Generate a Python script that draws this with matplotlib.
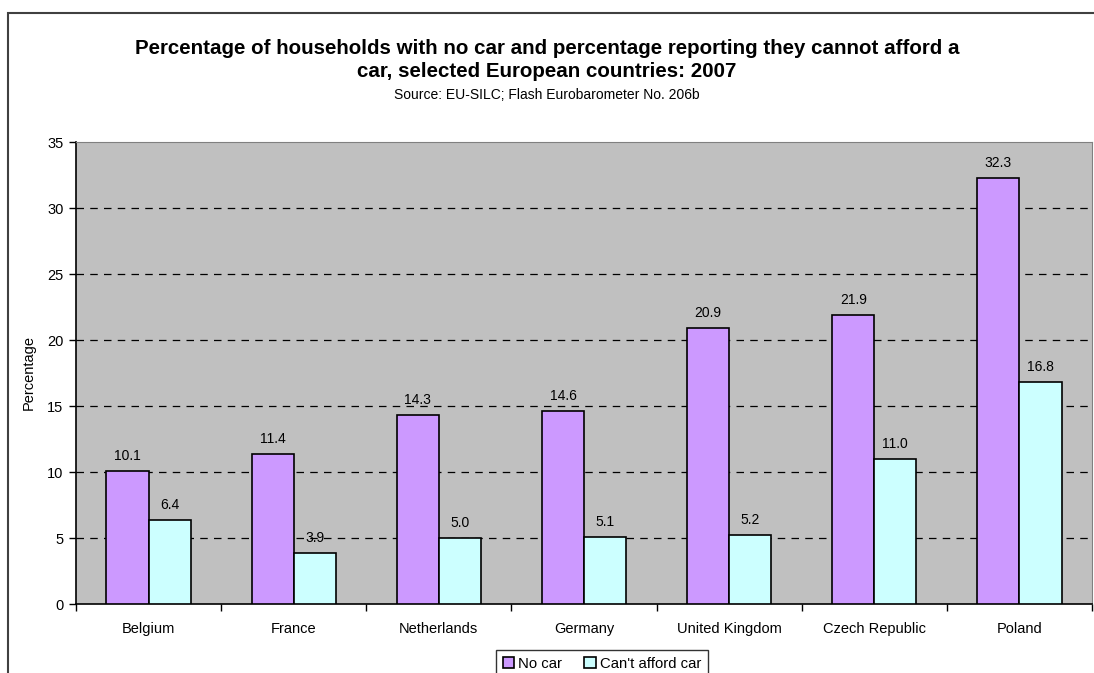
import matplotlib.pyplot as plt
from matplotlib.patches import Rectangle
import numpy as np

plt.rcParams['font.family'] = ['Liberation Sans', 'DejaVu Sans']

countries = ["Belgium", "France", "Netherlands", "Germany",
             "United Kingdom", "Czech Republic", "Poland"]
no_car = [10.1, 11.4, 14.3, 14.6, 20.9, 21.9, 32.3]
cant_afford = [6.4, 3.9, 5.0, 5.1, 5.2, 11.0, 16.8]
y_ticks = [0, 5, 10, 15, 20, 25, 30, 35]

fig = plt.figure(figsize=(10.94, 6.73), dpi=100)
W, H = 1094, 673
ax = fig.add_axes([76 / W, 1 - 604 / H, (1092 - 76) / W, (604 - 142) / H])
ax.set_facecolor('#C0C0C0')

x = np.arange(len(countries))
w = 0.29
b1 = ax.bar(x - w / 2, no_car, w, color='#CC99FF', edgecolor='black',
            linewidth=1.2, label='No car', zorder=3)
b2 = ax.bar(x + w / 2, cant_afford, w, color='#CCFFFF', edgecolor='black',
            linewidth=1.2, label="Can't afford car", zorder=3)

for bars in (b1, b2):
    for r in bars:
        ax.text(r.get_x() + r.get_width() / 2, r.get_height() + 0.6,
                f"{r.get_height():.1f}", ha='center', va='bottom', fontsize=10)

ax.set_xlim(-0.5, len(countries) - 0.5)
ax.set_ylim(0, 35)
ax.set_yticks(y_ticks)
ax.set_yticklabels([str(v) for v in y_ticks], fontsize=10.5)
for v in y_ticks[1:-1]:
    ax.axhline(v, color='black', linestyle=(0, (6, 5)), linewidth=0.9, zorder=1)

ax.set_xticks(x)
ax.set_xticklabels(countries, fontsize=10.5)
ax.tick_params(axis='x', which='major', length=0, pad=13)
ax.set_xticks(np.arange(len(countries) + 1) - 0.5, minor=True)
ax.tick_params(axis='x', which='minor', length=5, direction='out', width=1)
ax.tick_params(axis='y', length=5, direction='out', width=1, pad=4)

ax.set_ylabel('Percentage', fontsize=10.5, labelpad=8)

for s in ('top', 'right'):
    ax.spines[s].set_color('#808080')
for s in ('left', 'bottom'):
    ax.spines[s].set_color('black')
    ax.spines[s].set_linewidth(1.2)

fig.text(0.5, 1 - 60 / H,
         "Percentage of households with no car and percentage reporting they cannot afford a\n"
         "car, selected European countries: 2007",
         ha='center', va='center', fontsize=14.8, fontweight='bold', linespacing=1.28)
fig.text(0.5, 1 - 95 / H, "Source: EU-SILC; Flash Eurobarometer No. 206b",
         ha='center', va='center', fontsize=10)

fig.patches.append(Rectangle((8 / W, -0.1), 1.2, 1 - 13 / H + 0.1,
                             transform=fig.transFigure, fill=False,
                             edgecolor='#404040', linewidth=1.5))

leg = fig.legend(loc='upper center', bbox_to_anchor=(602 / W, 1 - 650 / H), ncol=2,
                 frameon=True, fancybox=False, edgecolor='black', fontsize=10.7,
                 handlelength=0.75, handleheight=0.75, handletextpad=0.3,
                 columnspacing=1.5, borderpad=0.45, borderaxespad=0)
leg.get_frame().set_linewidth(1)

fig.savefig('out.png', dpi=100)
